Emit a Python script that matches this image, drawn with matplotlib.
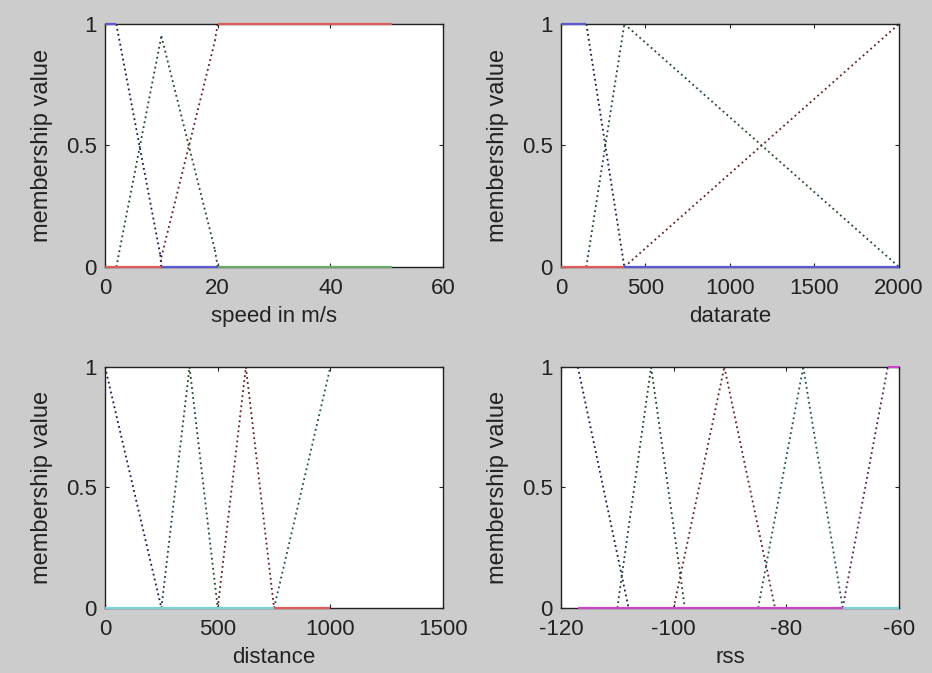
import matplotlib
matplotlib.use("Agg")
import matplotlib.pyplot as plt

# speed in m/s -- membership functions (x, y vertices)
speed_blue_x = [0, 2, 9.8, 10, 20]
speed_blue_y = [1, 1, 0.05, 0, 0]
speed_green_x = [2, 10, 19.5, 20, 51]
speed_green_y = [0, 0.95, 0.07, 0, 0]
speed_red_x = [0, 10, 10, 19.5, 20, 51]
speed_red_y = [0, 0, 0.04, 0.93, 1, 1]

# datarate
rate_blue_x = [0, 150, 375, 2000]
rate_blue_y = [1, 1, 0, 0]
rate_green_x = [150, 375, 2000]
rate_green_y = [0, 1, 0]
rate_red_x = [0, 375, 2000]
rate_red_y = [0, 0, 1]

# distance
dist_blue_x = [0, 250]
dist_blue_y = [1, 0]
dist_green_x = [250, 375, 500]
dist_green_y = [0, 1, 0]
dist_red_x = [500, 625, 750, 1000]
dist_red_y = [0, 1, 0, 0]
dist_cyan_x = [0, 750, 1000]
dist_cyan_y = [0, 0, 1]

# rss
rss_blue_x = [-117, -108]
rss_blue_y = [1, 0]
rss_green_x = [-110, -104, -98]
rss_green_y = [0, 1, 0]
rss_red_x = [-100, -91, -82]
rss_red_y = [0, 1, 0]
rss_cyan_x = [-85, -77, -70, -60]
rss_cyan_y = [0, 1, 0, 0]
rss_magenta_x = [-117, -70, -62, -60]
rss_magenta_y = [0, 0, 1, 1]

panels = [
    ("speed in m/s", [0, 60], [0, 20, 40, 60],
     [(speed_blue_x, speed_blue_y, "b"), (speed_green_x, speed_green_y, "g"),
      (speed_red_x, speed_red_y, "r")]),
    ("datarate", [0, 2000], [0, 500, 1000, 1500, 2000],
     [(rate_blue_x, rate_blue_y, "b"), (rate_green_x, rate_green_y, "g"),
      (rate_red_x, rate_red_y, "r")]),
    ("distance", [0, 1500], [0, 500, 1000, 1500],
     [(dist_blue_x, dist_blue_y, "b"), (dist_green_x, dist_green_y, "g"),
      (dist_red_x, dist_red_y, "r"), (dist_cyan_x, dist_cyan_y, "c")]),
    ("rss", [-120, -60], [-120, -100, -80, -60],
     [(rss_blue_x, rss_blue_y, "b"), (rss_green_x, rss_green_y, "g"),
      (rss_red_x, rss_red_y, "r"), (rss_cyan_x, rss_cyan_y, "c"),
      (rss_magenta_x, rss_magenta_y, "m")]),
]

# dark tint for the dotted slopes, lighter tint for flat runs on the border
dark = {"b": "#16164e", "g": "#1e4624", "r": "#5e1e1e", "c": "#1e5050", "m": "#501e50"}
light = {"b": "#5a5ad0", "g": "#6aa86a", "r": "#dc5c5c", "c": "#7ad4d4", "m": "#c848c8"}

positions = [
    [0.1127, 0.6033, 0.3627, 0.3611],
    [0.6019, 0.6033, 0.3627, 0.3611],
    [0.1127, 0.0966, 0.3627, 0.3581],
    [0.6019, 0.0966, 0.3627, 0.3581],
]

plt.rcParams["font.family"] = ["Liberation Sans", "DejaVu Sans"]
plt.rcParams["axes.unicode_minus"] = False
fig = plt.figure(figsize=(9.32, 6.73), dpi=100, facecolor="#cccccc")

for pos, (xlabel, xlim, xticks, curves) in zip(positions, panels):
    ax = fig.add_axes(pos)
    ax.set_facecolor("white")
    for xs, ys, c in curves:
        for i in range(len(xs) - 1):
            seg_x = xs[i:i + 2]
            seg_y = ys[i:i + 2]
            if seg_y[0] == seg_y[1]:
                ax.plot(seg_x, seg_y, color=light[c], lw=1.6, zorder=3,
                        clip_on=False, solid_capstyle="butt")
            else:
                ax.plot(seg_x, seg_y, color=dark[c], lw=1.3,
                        linestyle=(0, (1.0, 1.8)), zorder=2)
    ax.set_xlim(xlim)
    ax.set_ylim(0, 1)
    ax.set_xticks(xticks)
    ax.set_yticks([0, 0.5, 1])
    ax.set_yticklabels(["0", "0.5", "1"])
    ax.tick_params(direction="in", length=3, top=True, right=True,
                   labelsize=16, colors="#222222")
    ax.tick_params(axis="x", pad=8)
    ax.tick_params(axis="y", pad=6)
    for s in ax.spines.values():
        s.set_linewidth(1.0)
        s.set_color("#222222")
    ax.set_xlabel(xlabel, fontsize=16, color="#222222", labelpad=5)
    ax.set_ylabel("membership value", fontsize=17, color="#222222", labelpad=9)

fig.savefig("out.png", dpi=100, facecolor=fig.get_facecolor())
